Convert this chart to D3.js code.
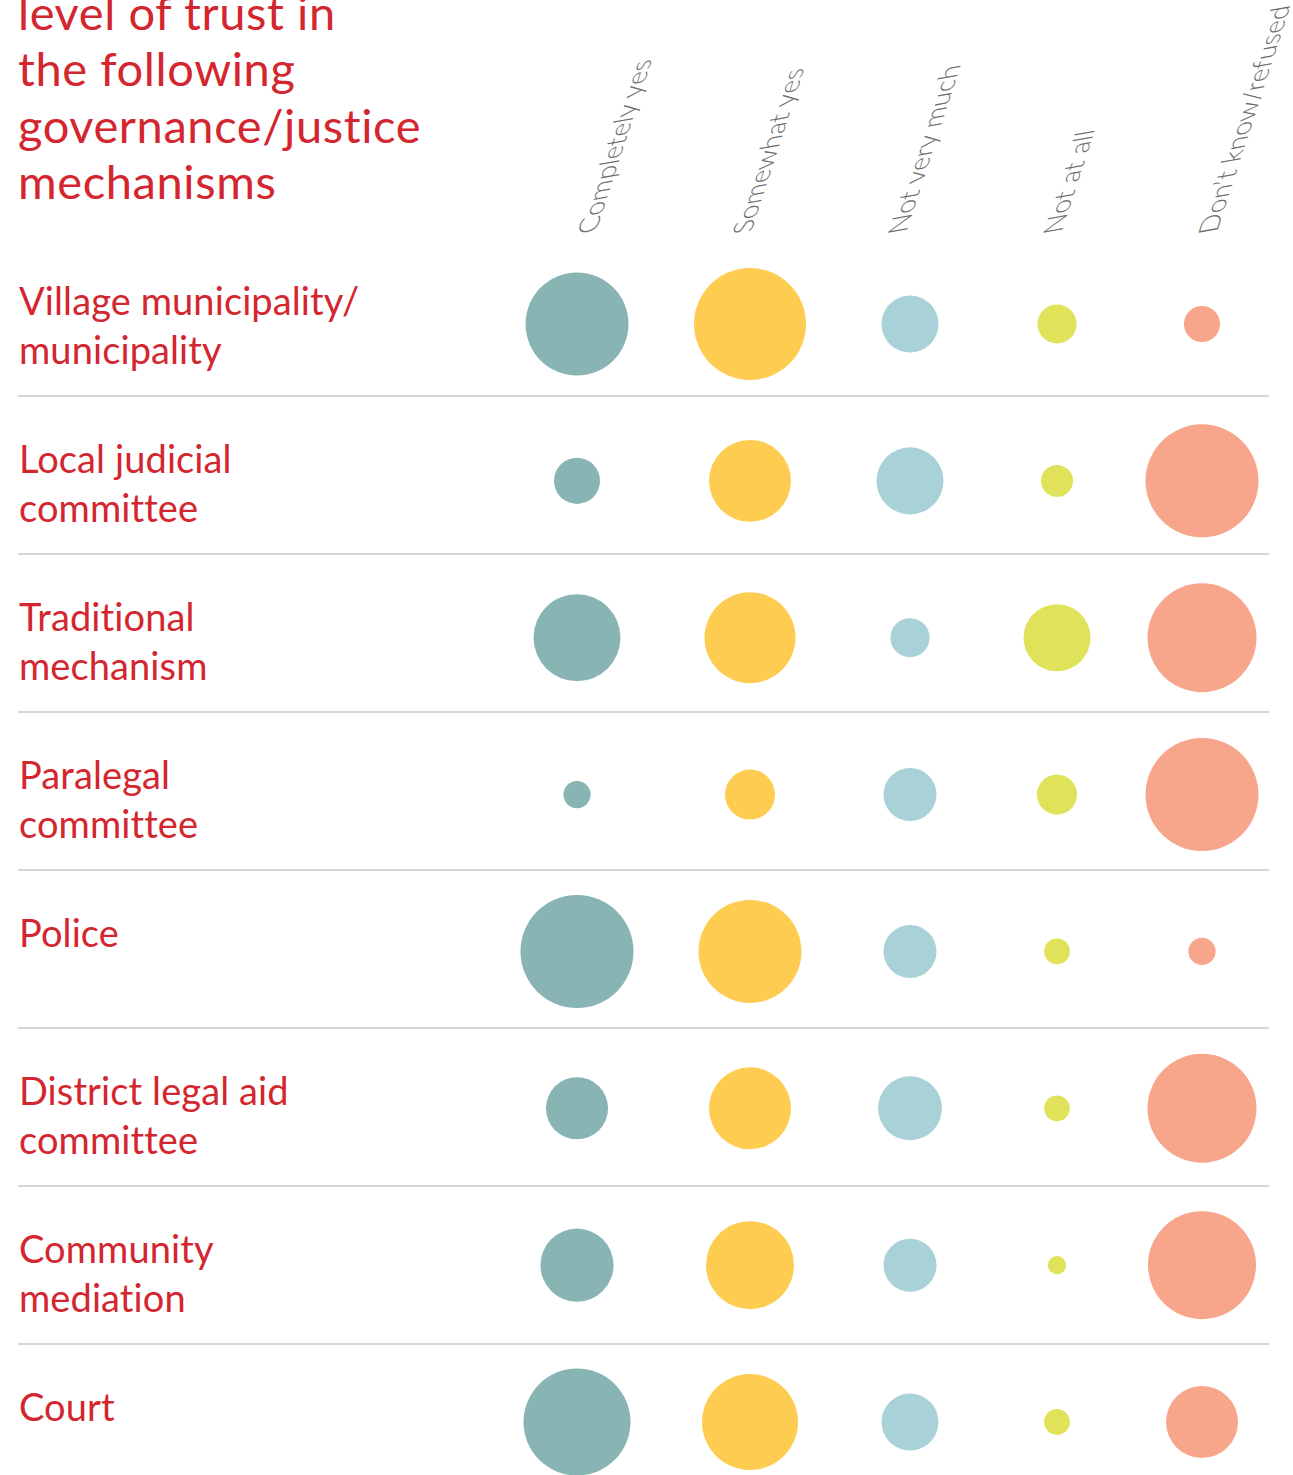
<!DOCTYPE html>
<html>
<head>
<meta charset="utf-8">
<script src="https://cdn.jsdelivr.net/npm/d3@7"></script>
<style>
  html, body { margin: 0; padding: 0; background: #fff; }
  svg { display: block; }
</style>
</head>
<body>
<div id="chart"></div>
<script>
"use strict";

// Trust in governance / justice mechanisms (share of respondents, %)
const titleLines = ["level of trust in", "the following", "governance/justice", "mechanisms"];
const answers = ["Completely yes", "Somewhat yes", "Not very much", "Not at all", "Don\u2019t know/refused"];
const mechanisms = [
  ["Village municipality/", "municipality"],
  ["Local judicial", "committee"],
  ["Traditional", "mechanism"],
  ["Paralegal", "committee"],
  ["Police"],
  ["District legal aid", "committee"],
  ["Community", "mediation"],
  ["Court"]
];
const completelyYes = [41.5, 8.3, 29.6, 2.9, 50.0, 15.1, 20.9, 44.8];
const somewhatYes   = [49.1, 26.3, 32.4, 9.8, 41.5, 26.3, 30.3, 36.1];
const notVeryMuch   = [12.7, 17.6, 6.0, 11.0, 11.0, 16.0, 11.0, 12.7];
const notAtAll      = [6.0, 4.0, 17.6, 6.3, 2.6, 2.6, 1.3, 2.6];
const dontKnow      = [5.1, 50.0, 46.5, 50.0, 2.9, 46.5, 45.7, 20.3];
const series = [completelyYes, somewhatYes, notVeryMuch, notAtAll, dontKnow];
const colors = ["#88b4b4", "#fecc50", "#a8d2d8", "#e0e35a", "#f7a68c"];

const W = 1293, H = 1475;
const red = "#d3262f";
const font = "Lato, 'Open Sans', sans-serif";

const svg = d3.select("#chart").append("svg")
  .attr("width", W).attr("height", H);

// scales
const rowKeys = mechanisms.map(d => d.join(" "));
const y = d3.scaleBand().domain(rowKeys).range([238, 238 + 158 * rowKeys.length]);
const yc = d3.scalePoint().domain(rowKeys).range([324, 1422]);
const x = d3.scaleOrdinal().domain(answers).range([577, 750, 910, 1057, 1202]);
const xHead = d3.scalePoint().domain(answers).range([596, 1217]);
const color = d3.scaleOrdinal().domain(answers).range(colors);
const r = d3.scaleSqrt().domain([0, 50]).range([0, 56.5]);

// title (clipped at top, as in the original)
svg.append("text")
  .attr("x", 18).attr("y", 30)
  .attr("font-family", font)
  .attr("font-size", 47)
  .attr("letter-spacing", 0.6)
  .attr("fill", red)
  .selectAll("tspan").data(titleLines).join("tspan")
  .attr("x", 18)
  .attr("dy", (d, i) => i === 0 ? 0 : 56.3)
  .text(d => d);

// column headers: steep baseline with slightly sheared glyphs
const base = 72 * Math.PI / 180;   // baseline angle
const lean = 10 * Math.PI / 180;   // glyph "up" direction, below horizontal
const hm = [Math.cos(base), -Math.sin(base), Math.cos(lean), -Math.sin(lean)];
svg.append("g").selectAll("text").data(answers).join("text")
  .attr("transform", d => `matrix(${hm.join(",")},${xHead(d)},232)`)
  .attr("font-family", font)
  .attr("font-weight", 300)
  .attr("font-size", 27.8)
  .attr("fill", "#6e6e6e")
  .text(d => d);

// row separators
svg.append("g").selectAll("line").data(rowKeys.slice(1)).join("line")
  .attr("x1", 18).attr("x2", 1269)
  .attr("y1", d => y(d)).attr("y2", d => y(d))
  .attr("stroke", "#c8c8c8").attr("stroke-width", 1.5);

// row labels
const labels = svg.append("g").selectAll("text").data(mechanisms).join("text")
  .attr("font-family", font)
  .attr("font-size", 38)
  .attr("letter-spacing", 0.1)
  .attr("fill", red);
labels.selectAll("tspan").data((d, i) => d.map(t => ({t, row: i}))).join("tspan")
  .attr("x", 19)
  .attr("y", (d, j) => y(rowKeys[d.row]) + 77 + j * 49)
  .text(d => d.t);

// bubbles
const cells = [];
rowKeys.forEach((row, i) => {
  answers.forEach((a, j) => cells.push({row, answer: a, value: series[j][i]}));
});
svg.append("g").selectAll("circle").data(cells).join("circle")
  .attr("cx", d => x(d.answer))
  .attr("cy", d => yc(d.row))
  .attr("r", d => r(d.value))
  .attr("fill", d => color(d.answer));
</script>
</body>
</html>
